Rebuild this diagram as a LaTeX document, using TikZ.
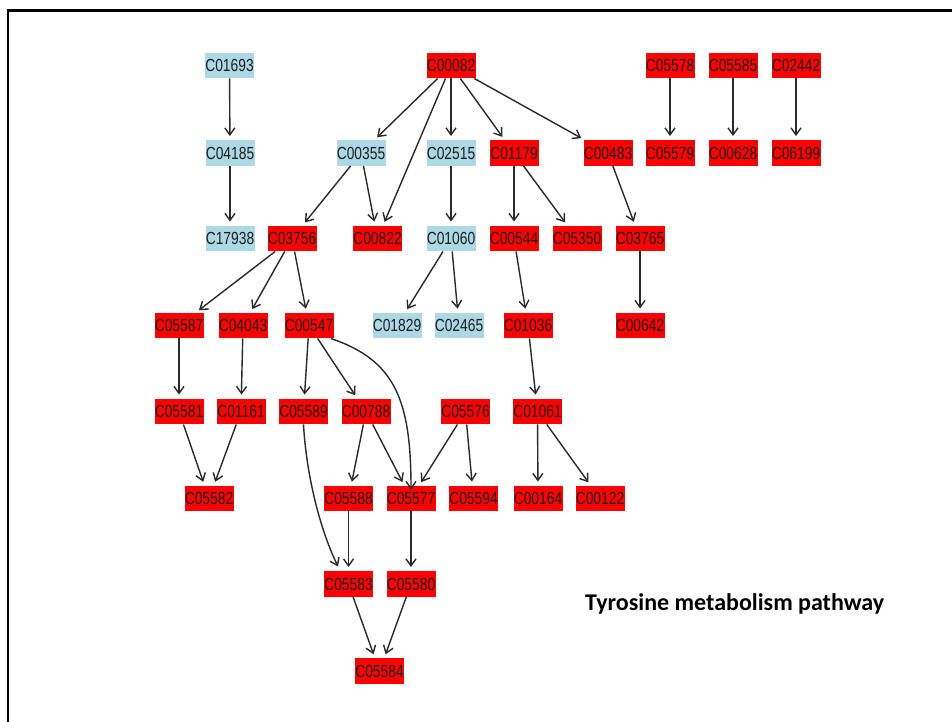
\documentclass[tikz,border=0pt]{standalone}
\usepackage{fontspec}
\usetikzlibrary{arrows.meta}
\newfontfamily\labelfont[FakeStretch=0.79]{Liberation Sans}
\newfontfamily\titlefont{Carlito}
\definecolor{cpdred}{HTML}{FF0000}
\definecolor{cpdblue}{HTML}{ADD8E6}
\definecolor{edgegray}{HTML}{2A2A2A}
\definecolor{labelink}{HTML}{1E1E1E}
\begin{document}
\begin{tikzpicture}[x=1pt,y=-1pt,
  cpd/.style={rectangle,minimum width=49pt,minimum height=25.5pt,inner sep=0pt,
    text=labelink,font=\labelfont\fontsize{17.5}{17.5}\selectfont},
  hit/.style={cpd,fill=cpdred},
  miss/.style={cpd,fill=cpdblue},
  edge/.style={draw=edgegray,line width=1.4pt,shorten >=4pt,
    -{Straight Barb[length=7pt,width=10pt,line width=1.4pt]}}]
\useasboundingbox (0,0) rectangle (952,721);
% frame
\draw[line width=2.6pt,line cap=rect] (8,721) -- (8,10.5) -- (952,10.5);

% row 1
\node[miss] (C01693) at (229.5,65.5) {C01693};
\node[hit]  (C00082) at (451,65.5) {C00082};
\node[hit]  (C05578) at (670,65.5) {C05578};
\node[hit]  (C05585) at (733,65.5) {C05585};
\node[hit]  (C02442) at (796,65.5) {C02442};
% row 2
\node[miss] (C04185) at (230,153) {C04185};
\node[miss] (C00355) at (361,153) {C00355};
\node[miss] (C02515) at (451,153) {C02515};
\node[hit]  (C01179) at (514,153) {C01179};
\node[hit]  (C00483) at (608,153) {C00483};
\node[hit]  (C05579) at (670,153) {C05579};
\node[hit]  (C00628) at (733,153) {C00628};
\node[hit]  (C06199) at (796,153) {C06199};
% row 3
\node[miss] (C17938) at (230,238.5) {C17938};
\node[hit]  (C03756) at (292,238.5) {C03756};
\node[hit]  (C00822) at (377.5,238.5) {C00822};
\node[miss] (C01060) at (451,238.5) {C01060};
\node[hit]  (C00544) at (514,238.5) {C00544};
\node[hit]  (C05350) at (577,238.5) {C05350};
\node[hit]  (C03765) at (640,238.5) {C03765};
% row 4
\node[hit]  (C05587) at (179,325.5) {C05587};
\node[hit]  (C04043) at (243,325.5) {C04043};
\node[hit]  (C00547) at (309,325.5) {C00547};
\node[miss] (C01829) at (397,325.5) {C01829};
\node[miss] (C02465) at (459,325.5) {C02465};
\node[hit]  (C01036) at (528,325.5) {C01036};
\node[hit]  (C00642) at (640,325.5) {C00642};
% row 5
\node[hit]  (C05581) at (179,411.5) {C05581};
\node[hit]  (C01161) at (241,411.5) {C01161};
\node[hit]  (C05589) at (303.5,411.5) {C05589};
\node[hit]  (C00788) at (366,411.5) {C00788};
\node[hit]  (C05576) at (465.5,411.5) {C05576};
\node[hit]  (C01061) at (537.5,411.5) {C01061};
% row 6
\node[hit]  (C05582) at (209,498.5) {C05582};
\node[hit]  (C05588) at (348.5,498.5) {C05588};
\node[hit]  (C05577) at (411,498.5) {C05577};
\node[hit]  (C05594) at (473.5,498.5) {C05594};
\node[hit]  (C00164) at (538,498.5) {C00164};
\node[hit]  (C00122) at (600,498.5) {C00122};
% row 7
\node[hit]  (C05583) at (348.5,584) {C05583};
\node[hit]  (C05580) at (411,584) {C05580};
% row 8
\node[hit]  (C05584) at (379.5,671) {C05584};

% reactions
\draw[edge] (C01693) -- (C04185);
\draw[edge] (C04185) -- (C17938);
\draw[edge] (C00082) -- (C00355);
\draw[edge] (C00082) -- (C00822);
\draw[edge] (C00082) -- (C02515);
\draw[edge] (C00082) -- (C01179);
\draw[edge] (C00082) -- (C00483);
\draw[edge] (C05578) -- (C05579);
\draw[edge] (C05585) -- (C00628);
\draw[edge] (C02442) -- (C06199);
\draw[edge] (C00355) -- (C03756);
\draw[edge] (C00355) -- (C00822);
\draw[edge] (C02515) -- (C01060);
\draw[edge] (C01179) -- (C00544);
\draw[edge] (C01179) -- (C05350);
\draw[edge] (C00483) -- (C03765);
\draw[edge] (C03765) -- (C00642);
\draw[edge] (C01060) -- (C01829);
\draw[edge] (C01060) -- (C02465);
\draw[edge] (C00544) -- (C01036);
\draw[edge] (C01036) -- (C01061);
\draw[edge] (C01061) -- (C00164);
\draw[edge] (C01061) -- (C00122);
\draw[edge] (C03756) -- (C05587);
\draw[edge] (C03756) -- (C04043);
\draw[edge] (C03756) -- (C00547);
\draw[edge] (C05587) -- (C05581);
\draw[edge] (C04043) -- (C01161);
\draw[edge] (C05581) -- (C05582);
\draw[edge] (C01161) -- (C05582);
\draw[edge] (C00547) -- (C05589);
\draw[edge] (C00547) -- (C00788);
\draw[edge,shorten >=0pt] ([xshift=-3pt]C00547.south east)
  .. controls (395,360) and (411,400) .. ([yshift=-4pt]C05577.north);
\draw[edge,shorten >=0pt] (C05589.south)
  .. controls (306,470) and (318,525) .. (338,566.5);
\draw[edge] (C00788) -- (C05588);
\draw[edge] (C00788) -- (C05577);
\draw[edge] (C05576) -- (C05577);
\draw[edge] (C05576) -- (C05594);
\draw[edge] (C05588) -- (C05583);
\draw[edge] (C05577) -- (C05580);
\draw[edge] (C05583) -- (C05584);
\draw[edge] (C05580) -- (C05584);

% caption
\node[anchor=base west,inner sep=0pt,font=\titlefont\bfseries\fontsize{24}{24}\selectfont]
  (caption) at (585,610) {Tyrosine metabolism pathway};
\end{tikzpicture}
\end{document}
